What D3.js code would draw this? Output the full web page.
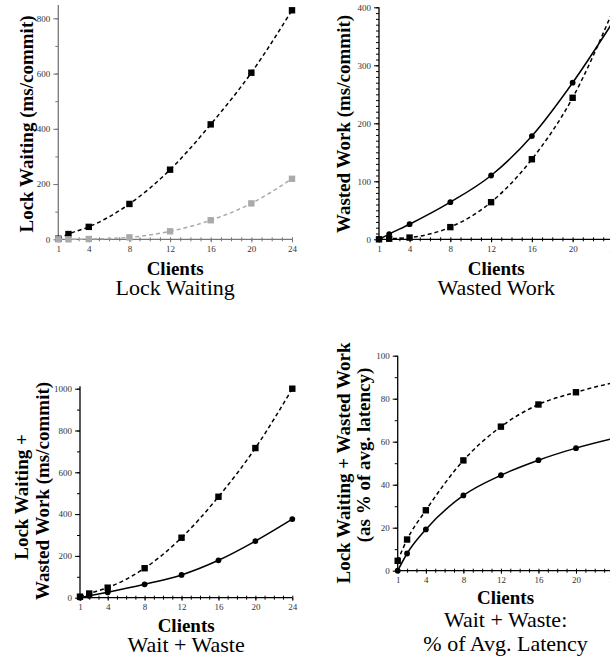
<!DOCTYPE html>
<html>
<head>
<meta charset="utf-8">
<script src="https://cdn.jsdelivr.net/npm/d3@7"></script>
<style>
  html, body { margin: 0; padding: 0; background: #fff; }
  svg { display: block; }
  svg text { font-family: "Liberation Serif", "Times New Roman", Times, serif !important; }
</style>
</head>
<body>
<svg id="chart" width="610" height="660"></svg>
<script>
// ---------- data ----------
const clients = [1, 2, 4, 8, 12, 16, 20, 24];
const xTickLabels = [1, 4, 8, 12, 16, 20, 24];

// Panel 1: Lock Waiting (ms/commit)
const lockWaitDark = [2, 19, 45, 128, 252, 416, 603, 829];
const lockWaitGray = [0, 0, 1, 7, 29, 69, 130, 219];

// Panel 2: Wasted Work (ms/commit)
const wastedSolid = [0, 9, 26, 64, 110, 178, 270, 376];
const wastedDashed = [0, 1, 3, 21, 64, 138, 244, 396];

// Panel 3: Lock Waiting + Wasted Work (ms/commit)
const waitWasteSolid = [0, 9, 26, 64, 109, 179, 271, 376];
const waitWasteDashed = [5, 20, 48, 141, 287, 483, 716, 1000];

// Panel 4: as % of avg. latency
const pctSolid = [0, 8, 19.2, 35, 44.4, 51.4, 57, 61.5];
const pctDashed = [4.6, 14.5, 28.1, 51.3, 67, 77.3, 83, 87.5];

const yTicks1 = [0, 200, 400, 600, 800];
const yTicks2 = [0, 100, 200, 300, 400];
const yTicks3 = [0, 200, 400, 600, 800, 1000];
const yTicks4 = [0, 20, 40, 60, 80, 100];

// ---------- drawing ----------
const FONT = "'Liberation Serif', 'Times New Roman', Times, serif";
const svg = d3.select("#chart").attr("font-family", FONT);

function panel(cfg) {
  const g = svg.append("g");
  const x = d3.scaleLinear().domain([1, 24]).range([cfg.x0, cfg.x1]);
  const y = d3.scaleLinear().domain([0, cfg.yRef]).range([cfg.yBase, cfg.yRefPx]);
  const ac = cfg.axisColor;

  // y minor ticks
  const ymin = g.append("g").attr("transform", `translate(${cfg.x0},0)`)
    .call(d3.axisLeft(y).tickValues(d3.range(0, cfg.yTop + 0.001, cfg.yMinor)).tickSize(3).tickSizeOuter(0).tickFormat(""));
  ymin.select(".domain").remove();
  ymin.selectAll("line").attr("stroke", ac);
  // y major
  const ymaj = g.append("g").attr("transform", `translate(${cfg.x0},0)`)
    .call(d3.axisLeft(y).tickValues(cfg.yTicks).tickSize(5).tickSizeOuter(0).tickPadding(3).tickFormat(d3.format("d")));
  ymaj.attr("font-family", FONT);
  ymaj.select(".domain").remove();
  ymaj.selectAll("line").attr("stroke", ac);
  ymaj.selectAll("text").attr("fill", "#333").style("font-size", "9px");

  // x minor ticks (crossing the axis)
  [2, -2].forEach(s => {
    const xm = g.append("g").attr("transform", `translate(0,${cfg.yBase})`)
      .call(d3.axisBottom(x).tickValues(d3.range(1, 25)).tickSize(s).tickSizeOuter(0).tickFormat(""));
    xm.select(".domain").remove();
    xm.selectAll("line").attr("stroke", ac);
  });
  const xmaj = g.append("g").attr("transform", `translate(0,${cfg.yBase})`)
    .call(d3.axisBottom(x).tickValues(xTickLabels).tickSize(3).tickSizeOuter(0).tickPadding(3).tickFormat(d3.format("d")));
  xmaj.attr("font-family", FONT);
  xmaj.select(".domain").remove();
  xmaj.selectAll("line").attr("stroke", ac);
  xmaj.selectAll("text").attr("fill", "#333").style("font-size", "9px");

  // axis lines
  g.append("line").attr("x1", cfg.x0).attr("x2", cfg.x0)
    .attr("y1", y(0)).attr("y2", y(cfg.yTop)).attr("stroke", ac).attr("stroke-width", 1.3);
  g.append("line").attr("x1", x(1)).attr("x2", x(24))
    .attr("y1", y(0)).attr("y2", y(0)).attr("stroke", ac).attr("stroke-width", 1.3);

  // series
  cfg.series.forEach(s => {
    const pts = clients.map((c, i) => [c, s.values[i]]);
    const line = d3.line().x(d => x(d[0])).y(d => y(d[1])).curve(d3.curveMonotoneX);
    g.append("path").attr("d", line(pts)).attr("fill", "none")
      .attr("stroke", s.color).attr("stroke-width", 1.5)
      .attr("stroke-dasharray", s.dashed ? "4,3" : null);
    if (s.marker === "square") {
      g.selectAll(null).data(pts).enter().append("rect")
        .attr("x", d => x(d[0]) - 3.2).attr("y", d => y(d[1]) - 3.2)
        .attr("width", 6.4).attr("height", 6.4).attr("fill", s.color);
    } else {
      g.selectAll(null).data(pts).enter().append("circle")
        .attr("cx", d => x(d[0])).attr("cy", d => y(d[1])).attr("r", 2.9).attr("fill", s.color);
    }
  });

  // y label
  cfg.ylabel.forEach(l => {
    g.append("text").attr("transform", `translate(${l.x},${l.y}) rotate(-90)`)
      .attr("text-anchor", "middle").attr("font-family", FONT)
      .style("font-size", "19px").style("font-weight", "bold")
      .attr("fill", "#000").text(l.t);
  });
  // x label
  const cx = (cfg.x0 + cfg.x1) / 2;
  g.append("text").attr("x", cx).attr("y", cfg.yBase + cfg.xlabDy)
    .attr("text-anchor", "middle").attr("font-family", FONT)
    .style("font-size", "19px").style("font-weight", "bold").text("Clients");
  cfg.title.forEach((t, i) => {
    g.append("text").attr("x", cx).attr("y", cfg.yBase + cfg.titleDy + i * 24)
      .attr("text-anchor", "middle").attr("font-family", FONT)
      .style("font-size", "22px").text(t);
  });
}

panel({
  x0: 58.3, x1: 292, yBase: 239.3, yRef: 800, yRefPx: 18.3, yTop: 848, yMinor: 100,
  yTicks: yTicks1, axisColor: "#777",
  series: [
    { values: lockWaitDark, color: "#000", dashed: true, marker: "square" },
    { values: lockWaitGray, color: "#aaa", dashed: true, marker: "square" }
  ],
  ylabel: [{ x: 33, y: 124, t: "Lock Waiting (ms/commit)" }],
  xlabDy: 35.5, titleDy: 56, title: ["Lock Waiting"]
});

panel({
  x0: 379, x1: 613.4, yBase: 239.3, yRef: 400, yRefPx: 7.3, yTop: 400, yMinor: 10,
  yTicks: yTicks2, axisColor: "#000",
  series: [
    { values: wastedSolid, color: "#000", dashed: false, marker: "circle" },
    { values: wastedDashed, color: "#000", dashed: true, marker: "square" }
  ],
  ylabel: [{ x: 350, y: 124, t: "Wasted Work (ms/commit)" }],
  xlabDy: 35.5, titleDy: 56, title: ["Wasted Work"]
});

panel({
  x0: 80, x1: 292.3, yBase: 597.7, yRef: 1000, yRefPx: 388.7, yTop: 1012, yMinor: 100,
  yTicks: yTicks3, axisColor: "#000",
  series: [
    { values: waitWasteSolid, color: "#000", dashed: false, marker: "circle" },
    { values: waitWasteDashed, color: "#000", dashed: true, marker: "square" }
  ],
  ylabel: [{ x: 28, y: 497, t: "Lock Waiting +" }, { x: 49, y: 491, t: "Wasted Work (ms/commit)" }],
  xlabDy: 34, titleDy: 54, title: ["Wait + Waste"]
});

panel({
  x0: 397.7, x1: 613.5, yBase: 570.7, yRef: 100, yRefPx: 355.7, yTop: 100, yMinor: 10,
  yTicks: yTicks4, axisColor: "#000",
  series: [
    { values: pctSolid, color: "#000", dashed: false, marker: "circle" },
    { values: pctDashed, color: "#000", dashed: true, marker: "square" }
  ],
  ylabel: [{ x: 350, y: 463, t: "Lock Waiting + Wasted Work" }, { x: 370, y: 455, t: "(as % of avg. latency)" }],
  xlabDy: 33.5, titleDy: 56, title: ["Wait + Waste:", "% of Avg. Latency"]
});
</script>
</body>
</html>
